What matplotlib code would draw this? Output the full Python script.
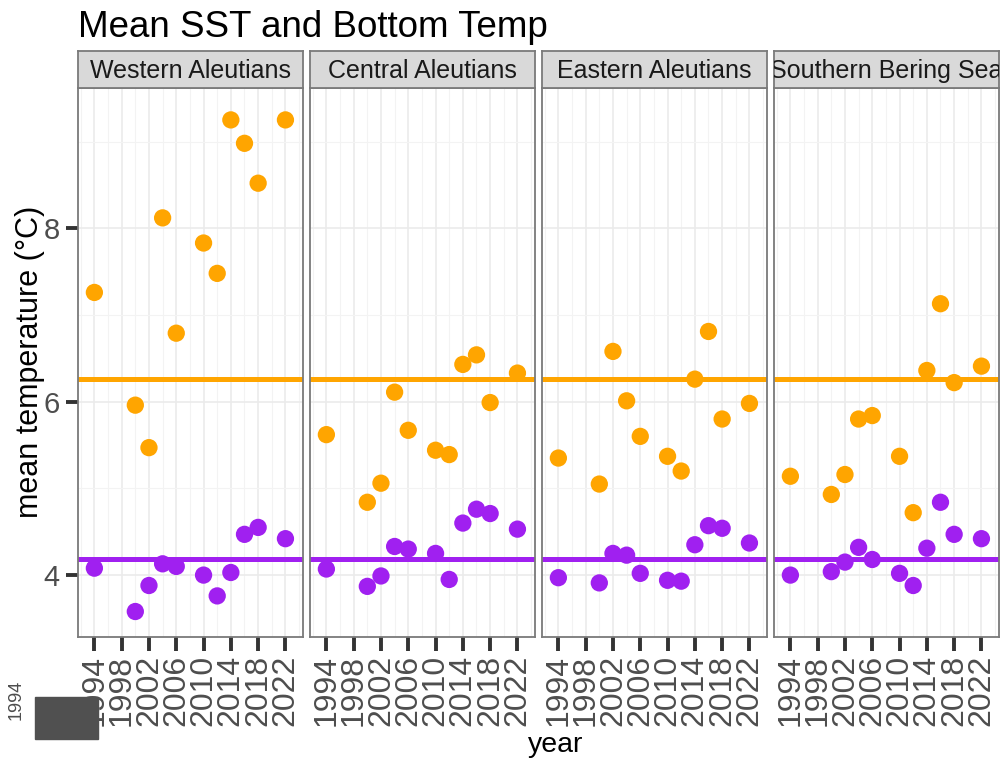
# Mean SST and bottom temperature by region, faceted scatter with mean lines

import matplotlib
matplotlib.use("Agg")
import matplotlib.pyplot as plt
from matplotlib.patches import Rectangle

plt.rcParams['font.family'] = ['Liberation Sans', 'DejaVu Sans']

# ---------------------------------------
# data

years = [1994, 2000, 2002, 2004, 2006, 2010, 2012, 2014, 2016, 2018, 2022]
regions = ["Western Aleutians", "Central Aleutians", "Eastern Aleutians", "Southern Bering Sea"]

sst_western = [7.26, 5.96, 5.47, 8.12, 6.79, 7.83, 7.48, 9.25, 8.98, 8.52, 9.25]
sst_central = [5.62, 4.84, 5.06, 6.11, 5.67, 5.44, 5.39, 6.43, 6.54, 5.99, 6.33]
sst_eastern = [5.35, 5.05, 6.58, 6.01, 5.60, 5.37, 5.20, 6.26, 6.81, 5.80, 5.98]
sst_southern = [5.14, 4.93, 5.16, 5.80, 5.84, 5.37, 4.72, 6.36, 7.13, 6.22, 6.41]

bt_western = [4.08, 3.58, 3.88, 4.13, 4.10, 4.00, 3.76, 4.03, 4.47, 4.55, 4.42]
bt_central = [4.07, 3.87, 3.99, 4.33, 4.30, 4.25, 3.95, 4.60, 4.76, 4.71, 4.53]
bt_eastern = [3.97, 3.91, 4.25, 4.23, 4.02, 3.94, 3.93, 4.35, 4.57, 4.54, 4.37]
bt_southern = [4.00, 4.04, 4.15, 4.32, 4.18, 4.02, 3.88, 4.31, 4.84, 4.47, 4.42]

mean_sst = 6.26
mean_bt = 4.19

year_ticks = [1994, 1998, 2002, 2006, 2010, 2014, 2018, 2022]
temp_ticks = [4, 6, 8]

# ---------------------------------------

W, H = 1008, 763
SST_COLOR = "#FFA500"
BT_COLOR = "#A020F0"


def main():
    fig = plt.figure(figsize=(W / 100, H / 100), dpi=100)

    sst_all = [sst_western, sst_central, sst_eastern, sst_southern]
    bt_all = [bt_western, bt_central, bt_eastern, bt_southern]

    for i, region in enumerate(regions):
        left = 78 + 232 * i
        ax = fig.add_axes([left / W, 1 - 637 / H, 224.5 / W, 549 / H])

        ax.axhline(mean_sst, color=SST_COLOR, lw=3.6, zorder=2)
        ax.axhline(mean_bt, color=BT_COLOR, lw=3.6, zorder=2)
        ax.scatter(years, sst_all[i], s=155, color=SST_COLOR, edgecolors='none', zorder=3)
        ax.scatter(years, bt_all[i], s=155, color=BT_COLOR, edgecolors='none', zorder=3)

        ax.set_xlim(1991.6, 2024.5)
        ax.set_ylim(3.286, 9.618)
        ax.set_xticks(year_ticks)
        ax.set_xticks([y + 2 for y in year_ticks] + [1992], minor=True)
        ax.set_yticks(temp_ticks)
        ax.set_yticks([5, 7, 9], minor=True)
        ax.grid(which='major', color='#EBEBEB', lw=1.2, zorder=0)
        ax.grid(which='minor', color='#F3F3F3', lw=0.8, zorder=0)
        ax.set_axisbelow(True)

        ax.tick_params(which='minor', length=0)
        ax.tick_params(axis='x', length=10, width=2.8, color='#333333', labelsize=23,
                       labelcolor='#4D4D4D', labelrotation=90, pad=3)
        if i == 0:
            ax.tick_params(axis='y', length=9, width=2.8, color='#333333', labelsize=21,
                           labelcolor='#4D4D4D', pad=4)
        else:
            ax.tick_params(axis='y', left=False, labelleft=False)

        for sp in ax.spines.values():
            sp.set_color('#7A7A7A')
            sp.set_linewidth(1.3)

        ## facet strip on top of each panel
        sax = fig.add_axes([left / W, 1 - 88 / H, 224.5 / W, 37 / H])
        sax.set_facecolor('#D9D9D9')
        sax.set_xticks([])
        sax.set_yticks([])
        for sp in sax.spines.values():
            sp.set_color('#7A7A7A')
            sp.set_linewidth(1.3)
        sax.text(0.5, 0.45, region, transform=sax.transAxes, ha='center', va='center',
                 fontsize=18, color='#1A1A1A', clip_on=True)

    fig.text(78 / W, 1 - 37 / H, "Mean SST and Bottom Temp", fontsize=26.5,
             ha='left', va='baseline')
    fig.text(30 / W, 1 - 362 / H, "mean temperature (°C)", rotation=90, fontsize=22,
             ha='center', va='center')
    fig.text(556 / W, 1 - 745 / H, "year", fontsize=20.5, ha='center', va='center')

    ## leftover block in the bottom-left corner of the reference
    fig.add_artist(Rectangle((35 / W, 1 - 739 / H), 63 / W, 42 / H,
                             transform=fig.transFigure, color='#505050'))
    fig.text(16 / W, 1 - 700 / H, "1994", rotation=90, fontsize=13, color='#4D4D4D',
             ha='center', va='center')

    fig.savefig("out.png", dpi=100)


# ---------------------------------------

if __name__ == "__main__":
    main()
